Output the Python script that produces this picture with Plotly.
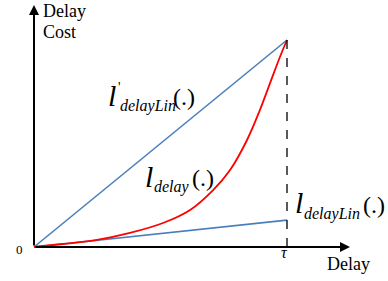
import plotly.graph_objects as go

# ---- data (x normalised so tau = 1, y normalised so top point = 1) ----
red_x = [0, 0.115, 0.249, 0.379, 0.51, 0.617, 0.708, 0.775, 0.842, 0.893, 0.933, 0.972, 1.0]
red_y = [0, 0.0145, 0.034, 0.068, 0.116, 0.179, 0.275, 0.372, 0.517, 0.662, 0.792, 0.918, 1.0]
upper_x = [0, 1.0]
upper_y = [0, 1.0]
lower_x = [0, 1.0]
lower_y = [0, 0.13]
tau = 1.0

W, H = 388, 281
X0, Y0, SX, SY = 34, 247, 253, 207  # pixel origin and scale (window coords)


def dx(px):
    return (px - X0) / SX


def dy(py):
    return (Y0 - py) / SY


SERIF = "Liberation Serif, Times New Roman, serif"
BLUE = "#4A7EBB"
RED = "#FF0000"

fig = go.Figure()
fig.add_trace(go.Scatter(x=upper_x, y=upper_y, mode="lines",
                         line=dict(color=BLUE, width=1.6), hoverinfo="skip"))
fig.add_trace(go.Scatter(x=lower_x, y=lower_y, mode="lines",
                         line=dict(color=BLUE, width=1.6), hoverinfo="skip"))
fig.add_trace(go.Scatter(x=red_x, y=red_y, mode="lines", line_shape="spline",
                         line=dict(color=RED, width=1.8), hoverinfo="skip"))
fig.add_trace(go.Scatter(x=[tau, tau], y=[0, upper_y[-1]], mode="lines",
                         line=dict(color="black", width=1.3, dash="dash"), hoverinfo="skip"))

ann = []
# axes arrows
ann.append(dict(x=dx(350), y=0, ax=0, ay=0, xref="x", yref="y", axref="x", ayref="y",
                text="", showarrow=True, arrowhead=2, arrowsize=1, arrowwidth=2,
                arrowcolor="black", standoff=0, startstandoff=0))
ann.append(dict(x=0, y=dy(5), ax=0, ay=0, xref="x", yref="y", axref="x", ayref="y",
                text="", showarrow=True, arrowhead=2, arrowsize=1, arrowwidth=2,
                arrowcolor="black", standoff=0, startstandoff=0))


def txt(s, left_px, base_px, size, italic=False):
    # place text by its left edge and baseline (window pixel coords)
    cy = base_px - 0.33 * size
    t = f"<i>{s}</i>" if italic else s
    ann.append(dict(x=dx(left_px), y=dy(cy), xref="x", yref="y", text=t,
                    showarrow=False, xanchor="left", yanchor="middle",
                    font=dict(family=SERIF, size=size, color="black"), borderpad=0))


# axis titles
txt("Delay", 42, 17, 18)
txt("Cost", 42, 38, 18)
txt("Delay", 326, 270, 18)
txt("0", 15, 254, 13)
txt("τ", 280, 258, 16, italic=True)

# label 1: l'_delayLin(.)
txt("l", 107, 105, 30, italic=True)
txt("'", 117, 92, 14)
txt("delayLin", 119, 111, 16, italic=True)
txt("(.)", 172, 105, 24)
# label 2: l_delay(.)
txt("l", 144, 186, 30, italic=True)
txt("delay", 153, 192, 16, italic=True)
txt("(.)", 191, 186, 24)
# label 3: l_delayLin(.)
txt("l", 294, 212, 30, italic=True)
txt("delayLin", 303, 219, 16, italic=True)
txt("(.)", 362, 213, 24)

fig.update_layout(
    width=W, height=H, autosize=False,
    margin=dict(l=0, r=0, t=0, b=0),
    paper_bgcolor="white", plot_bgcolor="white",
    showlegend=False, annotations=ann,
    xaxis=dict(range=[dx(0), dx(W)], visible=False, fixedrange=True),
    yaxis=dict(range=[dy(H), dy(0)], visible=False, fixedrange=True),
)
fig.write_html("out.html", config={"displayModeBar": False},
               post_script="document.body.style.margin='0';document.body.style.padding='0';")
